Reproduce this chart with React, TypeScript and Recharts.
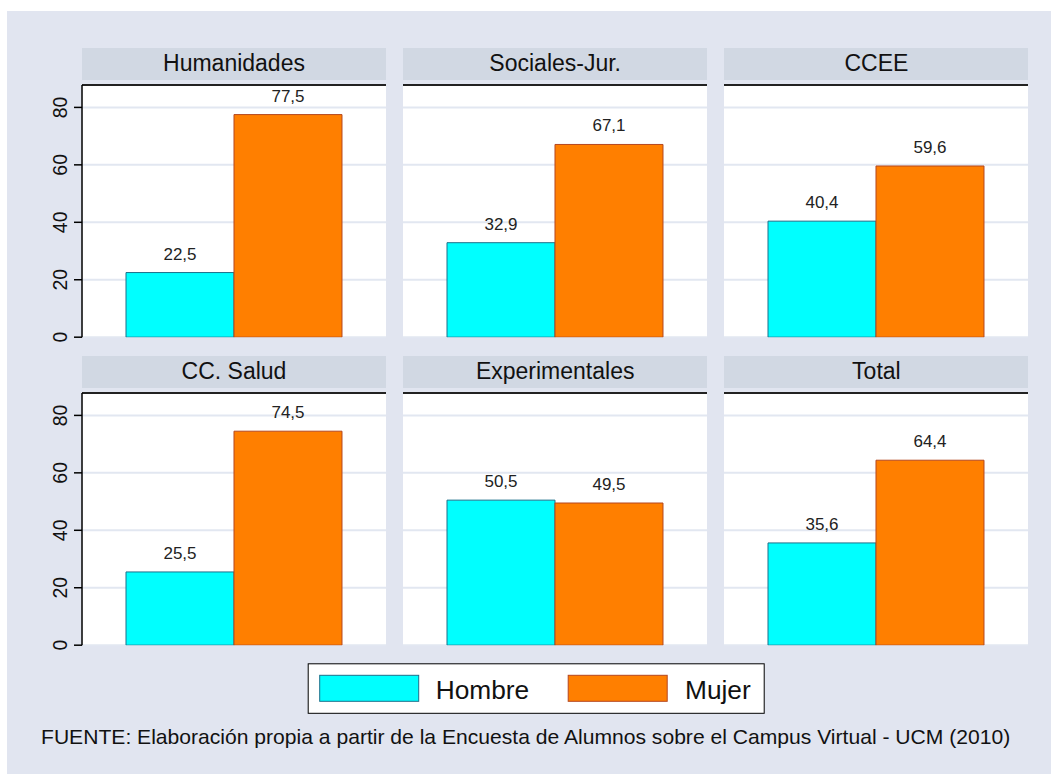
import React from 'react';
import { BarChart, Bar, XAxis, YAxis, CartesianGrid, ReferenceLine, LabelList } from 'recharts';

const categories = ['Humanidades', 'Sociales-Jur.', 'CCEE', 'CC. Salud', 'Experimentales', 'Total'];
const hombreValues = [22.5, 32.9, 40.4, 25.5, 50.5, 35.6];
const mujerValues = [77.5, 67.1, 59.6, 74.5, 49.5, 64.4];
const seriesNames = ['Hombre', 'Mujer'];
const seriesColors = ['#00FFFF', '#FF7F00'];
const seriesStrokes = ['#1D6F8A', '#B5471F'];
const yTicks = [0, 20, 40, 60, 80];
const yMax = 87.8;
const sourceNote = 'FUENTE: Elaboración propia a partir de la Encuesta de Alumnos sobre el Campus Virtual - UCM (2010)';

const FONT = "'Liberation Sans', Arial, Helvetica, sans-serif";
const PAGE_BG = '#E1E5F0';
const STRIP_BG = '#D1D8E3';
const GRID = '#E2E7F1';
const PLOT_LEFTS = [82, 403.2, 724.4];
const PLOT_TOPS = [85.3, 393.3];
const PLOT_W = 304;
const PLOT_H = 252.2;
const AXIS_W = 50;
const PAD = 16;

const fmt = (v: any) => Number(v).toFixed(1).replace('.', ',');

function YTick(props: any) {
  const { x, y, payload } = props;
  return (
    <text
      transform={`translate(${x - 7.5},${y}) rotate(-90)`}
      textAnchor="middle"
      fontSize={19.5}
      fill="#111"
      fontFamily={FONT}
    >
      {payload.value}
    </text>
  );
}

function Panel({ idx }: { idx: number }) {
  const row = Math.floor(idx / 3);
  const col = idx % 3;
  const showAxis = col === 0;
  const left = PLOT_LEFTS[col] - (showAxis ? AXIS_W : 0);
  const top = PLOT_TOPS[row] - PAD;
  const width = PLOT_W + (showAxis ? AXIS_W : 0);
  const height = PLOT_H + 2 * PAD;
  const data = [{ name: categories[idx], hombre: hombreValues[idx], mujer: mujerValues[idx] }];
  return (
    <>
      <div
        style={{
          position: 'absolute',
          left: PLOT_LEFTS[col],
          top: PLOT_TOPS[row] - 37.3,
          width: PLOT_W,
          height: 31.5,
          background: STRIP_BG,
          textAlign: 'center',
          lineHeight: '31.5px',
          fontSize: 23,
          color: '#111',
          fontFamily: FONT,
        }}
      >
        {categories[idx]}
      </div>
      <div style={{ position: 'absolute', left, top }}>
        <BarChart
          width={width}
          height={height}
          data={data}
          margin={{ top: PAD, right: 0, bottom: PAD, left: 0 }}
          barGap={0}
          barCategoryGap={0}
        >
          <CartesianGrid vertical={false} fill="#FFFFFF" fillOpacity={1} stroke={GRID} strokeWidth={2} />
          <XAxis dataKey="name" hide />
          <YAxis
            domain={[0, yMax]}
            ticks={yTicks}
            hide={!showAxis}
            width={AXIS_W}
            tickSize={8}
            tickMargin={0}
            interval={0}
            allowDataOverflow
            axisLine={{ stroke: '#000', strokeWidth: 1.5 }}
            tickLine={{ stroke: '#000', strokeWidth: 1.5 }}
            tick={<YTick />}
          />
          <ReferenceLine y={yMax} stroke="#222" strokeWidth={2} />
          <Bar dataKey="hombre" name={seriesNames[0]} fill={seriesColors[0]} stroke={seriesStrokes[0]} strokeWidth={1} barSize={108} isAnimationActive={false}>
            <LabelList dataKey="hombre" position="top" offset={13} formatter={fmt} fill="#222" fontSize={17} fontFamily={FONT} />
          </Bar>
          <Bar dataKey="mujer" name={seriesNames[1]} fill={seriesColors[1]} stroke={seriesStrokes[1]} strokeWidth={1} barSize={108} isAnimationActive={false}>
            <LabelList dataKey="mujer" position="top" offset={13} formatter={fmt} fill="#222" fontSize={17} fontFamily={FONT} />
          </Bar>
        </BarChart>
      </div>
    </>
  );
}

export default function App() {
  const legendX = 307.7;
  const legendY = 663.3;
  return (
    <div style={{ position: 'absolute', left: 0, top: 0, width: 1051, height: 774, fontFamily: FONT, overflow: 'hidden' }}>
      <svg width={1051} height={774} style={{ position: 'absolute', left: 0, top: 0 }}>
        <rect x={0} y={0} width={1051} height={774} fill="#FFFFFF" />
        <rect x={7} y={11} width={1044} height={763} fill={PAGE_BG} />
        <g transform={`translate(${legendX},${legendY})`}>
          <rect x={0.5} y={0.5} width={456} height={49.5} fill="#FFFFFF" stroke="#000" strokeWidth={1} />
          <rect x={12} y={12} width={99} height={26} fill={seriesColors[0]} stroke={seriesStrokes[0]} strokeWidth={1} />
          <text x={128} y={36} fontSize={26.3} fill="#111" fontFamily={FONT}>{seriesNames[0]}</text>
          <rect x={260.5} y={12} width={99} height={26} fill={seriesColors[1]} stroke={seriesStrokes[1]} strokeWidth={1} />
          <text x={377.3} y={36} fontSize={26.3} fill="#111" fontFamily={FONT}>{seriesNames[1]}</text>
        </g>
        <text x={41} y={744.3} fontSize={21.1} fill="#111" fontFamily={FONT}>{sourceNote}</text>
      </svg>
      {categories.map((_, i) => (
        <Panel key={i} idx={i} />
      ))}
    </div>
  );
}
